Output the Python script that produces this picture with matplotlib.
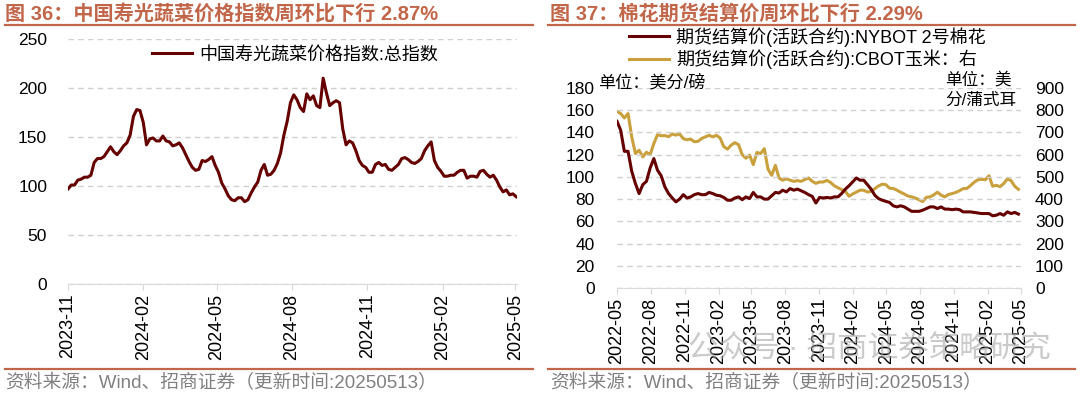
import numpy as np
import pandas as pd
import matplotlib
matplotlib.use("Agg")
import matplotlib.pyplot as plt
from matplotlib.lines import Line2D

plt.rcParams['font.family'] = ['Liberation Sans', 'Noto Sans CJK SC']

# 图36 寿光蔬菜价格指数（每4天一个读数）
veg_dates = pd.date_range('2023-11-01', periods=138, freq='4D')
veg_index = [
    97, 101, 101, 106, 107, 109, 109, 111, 124, 128,
    128, 130, 135, 140, 135, 132, 136, 141, 144, 152,
    171, 178, 177, 165, 142, 148, 149, 146, 146, 151,
    146, 145, 141, 142, 144, 139, 132, 125, 119, 116,
    117, 126, 125, 127, 130, 121, 114, 103, 97, 90,
    86, 85, 88, 88, 84, 86, 93, 99, 104, 116,
    122, 111, 112, 116, 123, 134, 152, 166, 185, 193,
    188, 180, 176, 194, 188, 192, 182, 180, 210, 195,
    182, 185, 187, 185, 158, 142, 146, 144, 136, 126,
    121, 119, 114, 114, 122, 124, 121, 122, 117, 116,
    119, 122, 128, 129, 127, 124, 123, 125, 128, 136,
    141, 145, 126, 119, 115, 110, 110, 111, 111, 114,
    116, 116, 108, 110, 110, 109, 115, 116, 112, 109,
    111, 106, 99, 94, 96, 91, 92, 89,
]
veg_ticks = pd.date_range('2023-11-01', '2025-05-01', freq='3MS')

# 图37 棉花 / 玉米期货结算价（每10天一个读数）
fut_dates = pd.date_range('2022-05-01', periods=110, freq='10D')
cotton = [
    150, 142, 123, 123, 105, 94, 85, 93, 96, 108,
    116.5, 106, 101, 91, 85, 81, 77.5, 80, 84, 81,
    82, 84, 85, 84, 84, 86, 85, 83.5, 83, 81.5,
    79, 79, 81, 82, 79.5, 82, 80.5, 86, 82, 82,
    80, 80, 83, 86, 85.5, 88, 86.5, 89.5, 88, 89,
    87.5, 86, 84, 82.5, 76.5, 81.5, 81, 81.5, 81, 82,
    82, 85, 89, 92, 95.5, 99, 97, 97, 93, 89,
    83.5, 80.5, 79, 78, 77, 74, 73, 74, 73, 71,
    69, 69, 69, 70, 71.5, 73, 73, 71.5, 73, 71,
    71, 70.5, 71, 70.5, 68.5, 68.5, 68.5, 68, 67.5, 67,
    67, 67, 65, 65.5, 67, 65.5, 68.5, 67, 68, 66.5,
]
corn = [
    795, 785, 765, 785, 680, 605, 620, 590, 611, 600,
    650, 690, 685, 686, 681, 693, 688, 693, 672, 667,
    670, 658, 660, 673, 680, 687, 680, 687, 675, 636,
    625, 643, 654, 645, 600, 584, 598, 555, 610, 605,
    627, 535, 507, 552, 495, 485, 492, 485, 480, 483,
    480, 488, 495, 480, 471, 477, 477, 484, 475, 460,
    451, 443, 435, 413, 423, 432, 440, 440, 432, 435,
    447, 459, 467, 465, 449, 448, 440, 431, 423, 414,
    410, 405, 397, 389, 408, 410, 419, 431, 418, 410,
    421, 425, 430, 438, 447, 448, 461, 476, 487, 489,
    487, 505, 458, 462, 456, 470, 491, 483, 458, 444,
]
fut_ticks = pd.date_range('2022-05-01', '2025-05-01', freq='3MS')

title_c = '#C2664A'
maroon = '#660000'
gold = '#C9A03C'
grid_c = '#D0D0D0'
axis_c = '#D9D9D9'
W, H = 1080, 393


def fx(px):
    return px / W


def fy(py):
    return 1 - py / H


def style_axis(ax, ticks):
    for s in ['left', 'top', 'right']:
        ax.spines[s].set_visible(False)
    ax.spines['bottom'].set_color(axis_c)
    ax.grid(axis='y', linestyle=(0, (4, 3)), color=grid_c, linewidth=1)
    ax.set_axisbelow(True)
    ax.set_xticks(ticks)
    ax.set_xticklabels([t.strftime('%Y-%m') for t in ticks], rotation=90, fontsize=13)
    ax.tick_params(axis='x', length=4, color=axis_c, pad=3)
    ax.tick_params(axis='y', length=0, labelsize=12.5)


fig = plt.figure(figsize=(10.8, 3.93), dpi=100)

# ---------- 左图 ----------
ax1 = fig.add_axes([fx(68), fy(284), fx(517 - 68), (284 - 39) / H])
ax1.plot(veg_dates, veg_index, color=maroon, linewidth=2.2, label='中国寿光蔬菜价格指数:总指数')
ax1.set_ylim(0, 250)
ax1.set_yticks(range(0, 251, 50))
ax1.set_xlim(veg_dates[0], veg_dates[-1] + pd.Timedelta(days=1))
style_axis(ax1, veg_ticks)
ax1.tick_params(axis='y', pad=15)
ax1.legend(loc='center left', bbox_to_anchor=(fx(143), fy(55)), bbox_transform=fig.transFigure,
           frameon=False, fontsize=13, handlelength=2.2, handletextpad=0.4, borderpad=0)

# ---------- 右图 ----------
ax2 = fig.add_axes([fx(617), fy(288), fx(1021 - 617), (288 - 88) / H])
ax3 = ax2.twinx()
l1, = ax2.plot(fut_dates, cotton, color=maroon, linewidth=2.2, zorder=3)
l2, = ax3.plot(fut_dates, corn, color=gold, linewidth=2.2, zorder=2)
ax2.set_zorder(ax3.get_zorder() + 1)
ax2.patch.set_visible(False)
ax2.set_ylim(0, 180)
ax2.set_yticks(range(0, 181, 20))
ax3.set_ylim(0, 900)
ax3.set_yticks(range(0, 901, 100))
ax2.set_xlim(fut_dates[0], pd.Timestamp('2025-05-02'))
style_axis(ax2, fut_ticks)
ax2.tick_params(axis='y', pad=16)
for s in ['left', 'top', 'right', 'bottom']:
    ax3.spines[s].set_visible(False)
ax3.tick_params(axis='y', length=0, labelsize=12.5, pad=10)

fig.legend([l1, l2], ['期货结算价(活跃合约):NYBOT 2号棉花', '期货结算价(活跃合约):CBOT玉米：右'],
           loc='center left', bbox_to_anchor=(fx(620), fy(48)), frameon=False, fontsize=13,
           handlelength=2.2, handletextpad=0.4, labelspacing=0.15, borderpad=0)

fig.text(fx(598), fy(82), '单位：美分/磅', fontsize=12.3, va='center', ha='left')
fig.text(fx(945), fy(90), '单位：美\n分/蒲式耳', fontsize=12, va='center', ha='left', linespacing=1.45)

# ---------- 标题、分隔线、来源 ----------
fig.text(fx(5), fy(14), '图 36：中国寿光蔬菜价格指数周环比下行 2.87%', fontsize=14.5,
         fontweight='bold', color=title_c, va='center')
fig.text(fx(550), fy(14), '图 37：棉花期货结算价周环比下行 2.29%', fontsize=14.5,
         fontweight='bold', color=title_c, va='center')
for x0, x1 in [(5, 533), (548, 1075)]:
    fig.add_artist(Line2D([fx(x0), fx(x1)], [fy(25), fy(25)], color=title_c, linewidth=1.6))
    fig.add_artist(Line2D([fx(x0), fx(x1)], [fy(369), fy(369)], color=title_c, linewidth=1.6))
fig.text(fx(5), fy(383), '资料来源：Wind、招商证券（更新时间:20250513）', fontsize=13.5,
         color='#808080', va='center')
fig.text(fx(550), fy(383), '资料来源：Wind、招商证券（更新时间:20250513）', fontsize=13.5,
         color='#808080', va='center')

# 水印
fig.text(fx(688), fy(350), '公众号 · 招商证券策略研究', fontsize=22, color='#A0A0A0',
         alpha=0.55, va='center', zorder=10)

fig.savefig('out.png', dpi=100)
